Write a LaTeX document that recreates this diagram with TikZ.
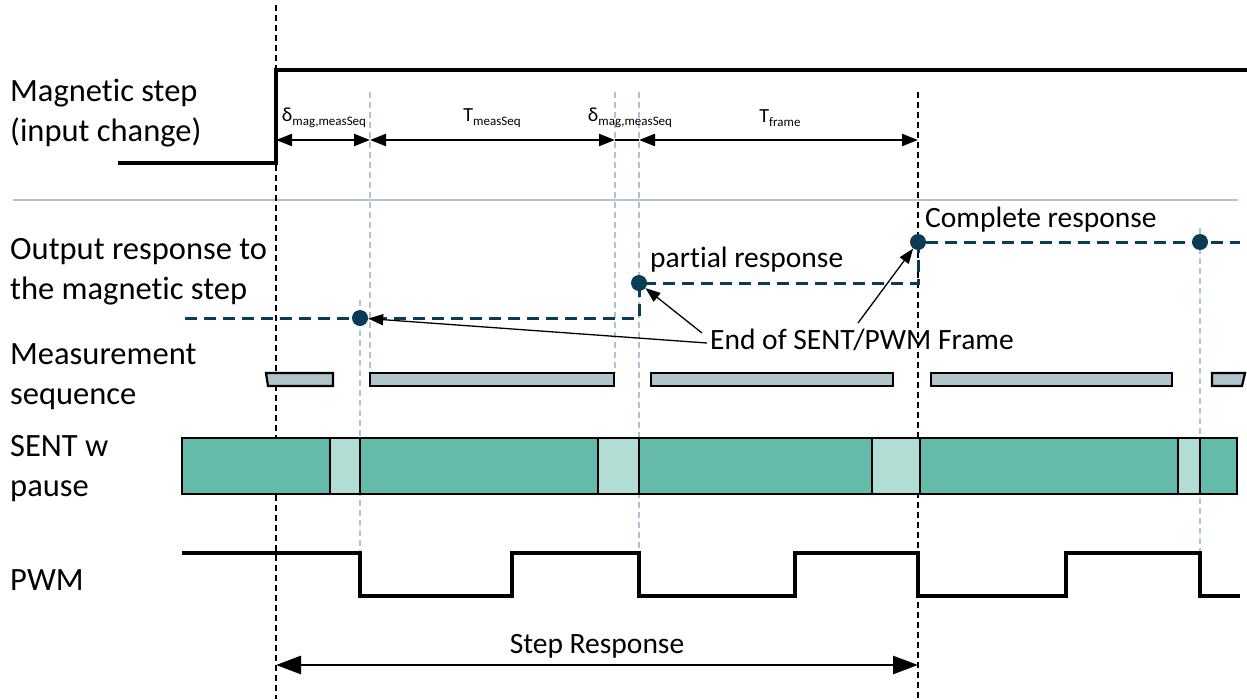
\documentclass[tikz,border=0pt]{standalone}
\usepackage{fontspec}
\setmainfont{Carlito}[Ligatures={NoCommon}]
\usetikzlibrary{arrows.meta}
\definecolor{outblue}{HTML}{0B3C55}
\definecolor{guide}{HTML}{AFC3CC}
\definecolor{measfill}{HTML}{B0C4CC}
\definecolor{sentdark}{HTML}{64BBA9}
\definecolor{sentlight}{HTML}{B2DDD4}
\begin{document}
\begin{tikzpicture}[x=1pt,y=-1pt,
  lbl/.style={anchor=west, align=left, font=\fontsize{32.5}{40}\selectfont, inner sep=0pt},
  ann/.style={font=\fontsize{29.5}{34}\selectfont, inner sep=0pt},
  dimlbl/.style={font=\fontsize{20}{24}\selectfont, inner sep=0pt},
  blackdash/.style={black, dash pattern=on 6pt off 4pt, line width=1.5pt},
  guideline/.style={guide, dash pattern=on 6pt off 4pt, line width=1.2pt},
  outline/.style={outblue, line width=3pt, dash pattern=on 12pt off 7pt},
  dot/.style={circle, fill=outblue, minimum size=16pt, inner sep=0pt},
  dim/.style={line width=2.2pt, {Triangle[length=16pt,width=12pt]}-{Triangle[length=16pt,width=12pt]}},
  pointer/.style={line width=1.3pt, -{Triangle[length=15pt,width=11pt]}},
  sig/.style={line width=3.2pt, line join=miter},
  meas/.style={fill=measfill, draw=black, line width=2.2pt},
  sentd/.style={fill=sentdark, draw=black, line width=2.4pt},
  sentl/.style={fill=sentlight, draw=black, line width=2.4pt},
  span/.style={line width=2.8pt, {Triangle[length=25pt,width=18pt]}-{Triangle[length=25pt,width=18pt]}}
]
\useasboundingbox (0,0) rectangle (1247,699);

% separator
\draw[guide, line width=2pt] (13,200) -- (1238,200);

% guide lines
\draw[guideline] (370,92) -- (370,373);
\draw[guideline] (615,92) -- (615,373);
\draw[guideline] (639,92) -- (639,553);
\draw[guideline] (360,300) -- (360,553);
\draw[guideline] (1200,228) -- (1200,553);

% black dashed markers
\draw[blackdash] (276,5) -- (276,699);
\draw[blackdash] (918,92) -- (918,699);

% magnetic step
\draw[sig] (118,163) -- (276,163) -- (276,70) -- (1247,70);

% labels
\node[lbl] (lmag) at (10,113) {Magnetic step\\(input change)};
\node[lbl] (lout) at (10,272) {Output response to\\the magnetic step};
\node[lbl] (lmeas) at (10,377) {Measurement\\sequence};
\node[lbl] (lsent) at (10,469) {SENT w\\pause};
\node[lbl] (lpwm) at (10,580) {PWM};

% dimension arrows
\coordinate (a0) at (276,140);
\coordinate (a1) at (370,140);
\coordinate (a2) at (615,140);
\coordinate (a3) at (639,140);
\coordinate (a4) at (918,140);
\draw[dim] (a0) -- (a1);
\draw[dim] (a1) -- (a2);
\draw[line width=2.2pt] (a2) -- (a3);
\draw[dim] (a3) -- (a4);
\node[dimlbl] (d1) at (324,118) {δ\raisebox{-4pt}{\fontsize{13}{14}\selectfont mag,measSeq}};
\node[dimlbl] (d2) at (492,118) {T\raisebox{-4pt}{\fontsize{13}{14}\selectfont measSeq}};
\node[dimlbl] (d3) at (630,118) {δ\raisebox{-4pt}{\fontsize{13}{14}\selectfont mag,measSeq}};
\node[dimlbl] (d4) at (780,118) {T\raisebox{-4pt}{\fontsize{13}{14}\selectfont frame}};

% output response
\draw[outline] (185,318) -- (639,318) -- (639,283) -- (918,283) -- (918,242) -- (1240,242);
\node[dot] (o1) at (360,318) {};
\node[dot] (o2) at (639,283) {};
\node[dot] (o3) at (918,242) {};
\node[dot] (o4) at (1200,242) {};
\node[ann, anchor=west] (tpart) at (650,260) {partial response};
\node[ann, anchor=west] (tcomp) at (925,220) {Complete response};
\node[ann, anchor=west] (tend) at (710,340) {End of SENT/PWM Frame};
\coordinate (p1) at (707,343);
\coordinate (p2) at (702,333);
\coordinate (p3) at (858,323);
\draw[pointer] (p1) -- (o1);
\draw[pointer] (p2) -- (o2);
\draw[pointer] (p3) -- (o3);

% measurement sequence
\draw[meas] (266,373) -- (333,373) -- (333,386) -- (268,386) -- cycle;
\draw[meas] (370,373) rectangle (614,386);
\draw[meas] (651,373) rectangle (893,386);
\draw[meas] (931,373) rectangle (1172,386);
\draw[meas] (1212,373) -- (1245,373) -- (1242,386) -- (1212,386) -- cycle;

% SENT
\draw[sentd] (182,438) rectangle (330,494);
\draw[sentl] (330,438) rectangle (360,494);
\draw[sentd] (360,438) rectangle (598,494);
\draw[sentl] (598,438) rectangle (639,494);
\draw[sentd] (639,438) rectangle (872,494);
\draw[sentl] (872,438) rectangle (920,494);
\draw[sentd] (920,438) rectangle (1178,494);
\draw[sentl] (1178,438) rectangle (1200,494);
\draw[sentd] (1200,438) rectangle (1237,494);

% PWM
\draw[sig] (182,553) -- (360,553) -- (360,596) -- (512,596) -- (512,553) -- (639,553) -- (639,596)
  -- (795,596) -- (795,553) -- (918,553) -- (918,596) -- (1066,596) -- (1066,553) -- (1200,553)
  -- (1200,596) -- (1240,596);

% step response
\coordinate (s0) at (276,665);
\coordinate (s1) at (918,665);
\draw[span] (s0) -- (s1);
\node[ann] (tstep) at (597,646) {Step Response};
\end{tikzpicture}
\end{document}
